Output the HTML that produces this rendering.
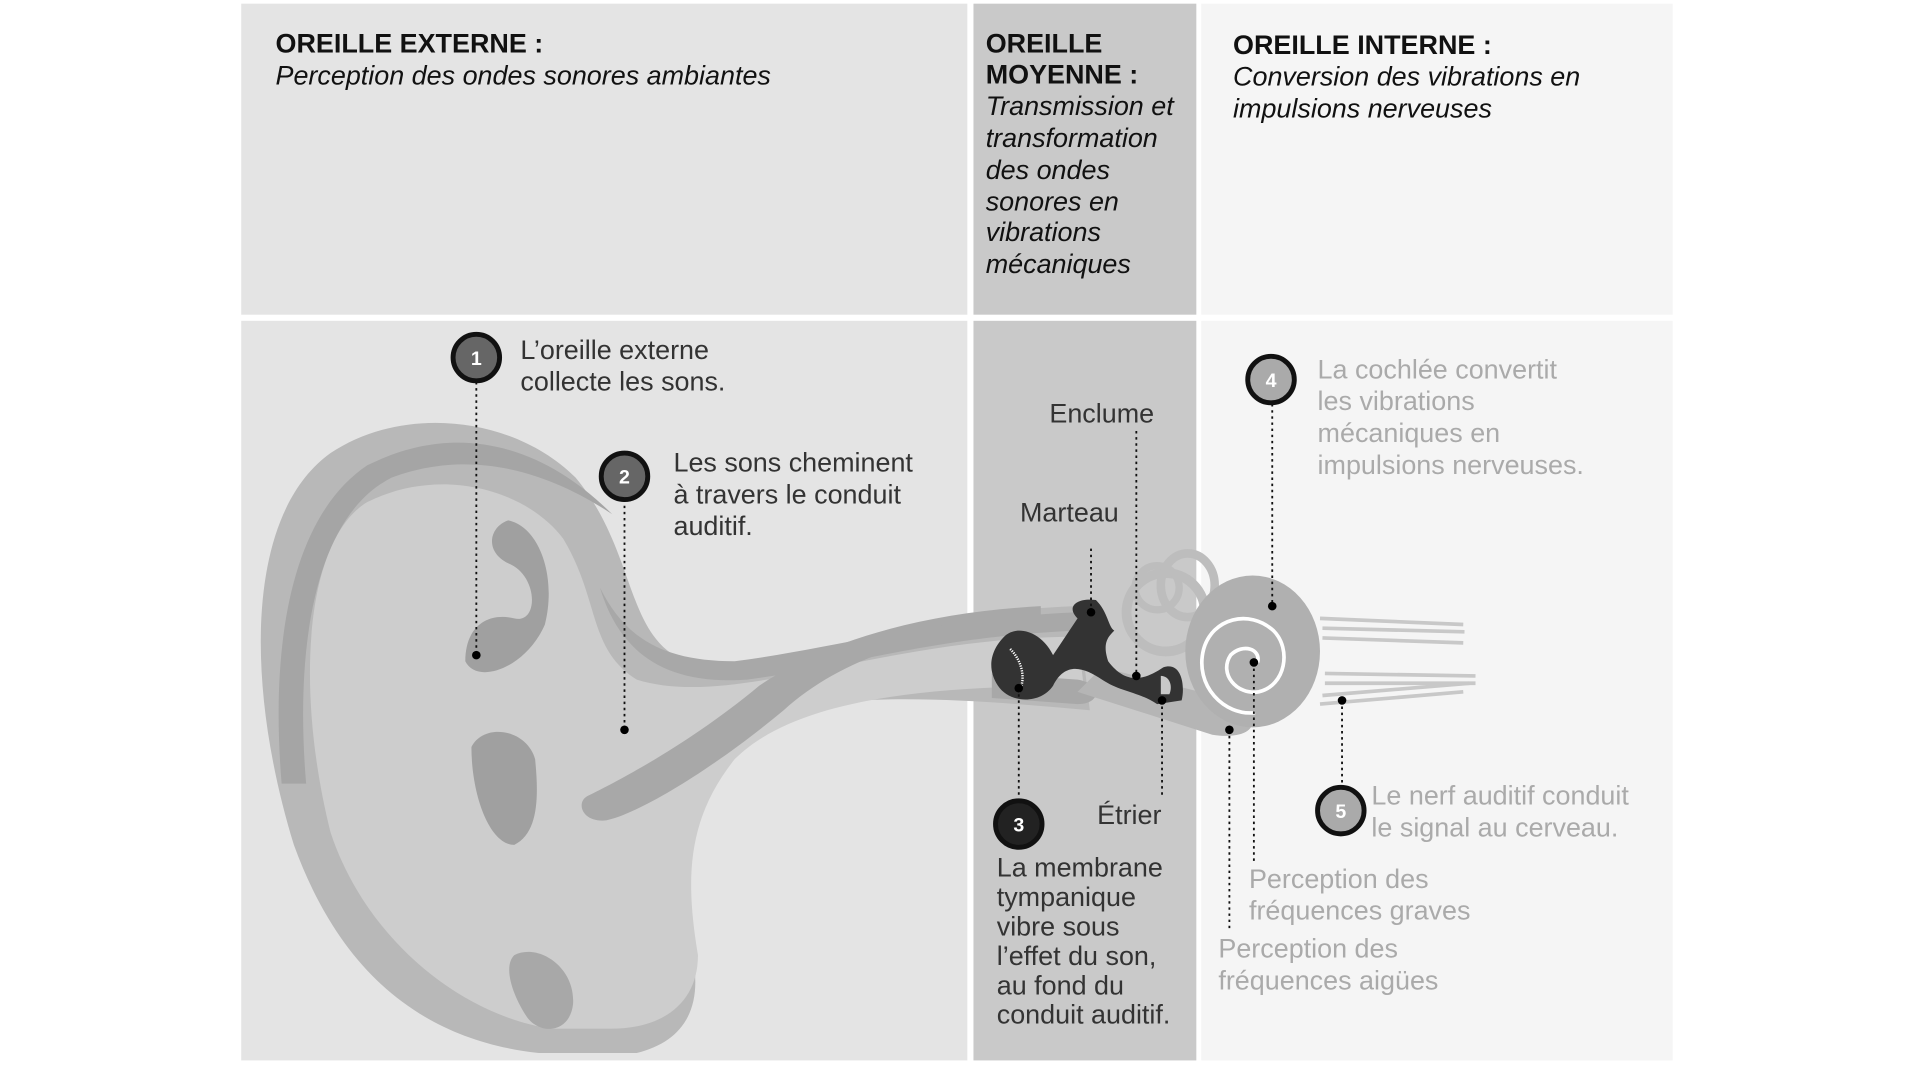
<!DOCTYPE html>
<html><head><meta charset="utf-8"><style>
html,body{margin:0;padding:0;background:#fff;width:1920px;height:1080px;overflow:hidden}
svg{display:block}
text{font-family:"Liberation Sans",sans-serif}
.h{font-weight:bold;font-size:22px;fill:#111}
.i{font-style:italic;font-size:22px;fill:#111}
.t{font-size:22px;fill:#333}
.g{font-size:22px;fill:#aaa}
.dot{stroke:#111;stroke-width:1.5;stroke-dasharray:2 3;fill:none}
</style></head><body>
<svg width="1920" height="1080" viewBox="0 0 1568 882" preserveAspectRatio="none">
<rect x="0" y="0" width="1568" height="882" fill="#fff"/>
<rect x="197" y="3" width="593" height="254" fill="#e4e4e4"/>
<rect x="795" y="3" width="182" height="254" fill="#c9c9c9"/>
<rect x="981" y="3" width="385" height="254" fill="#f5f5f5"/>
<rect x="197" y="262" width="593" height="604" fill="#e4e4e4"/>
<rect x="795" y="262" width="182" height="604" fill="#c9c9c9"/>
<rect x="981" y="262" width="385" height="604" fill="#f5f5f5"/>

<!-- ear -->
<path d="M240 690 C200 560 200 420 270 370 C330 330 420 340 470 390 C520 450 510 520 560 540 C640 560 720 500 880 495 L890 580 C780 570 650 560 600 600 C550 640 540 700 560 760 C580 820 560 850 520 860 L440 860 C350 850 280 800 240 690Z" fill="#b8b8b8"/>
<path d="M270 680 C240 560 250 440 300 410 C360 380 430 400 460 440 C490 490 480 530 520 555 C600 580 720 520 880 520 L885 560 C760 560 650 570 600 620 C560 670 560 720 570 780 C570 820 540 840 500 840 L450 840 C380 830 300 770 270 680Z" fill="#cdcdcd"/>
<path d="M230 640 C220 520 240 420 300 380 C380 340 450 370 500 420 C470 400 400 360 320 390 C260 420 240 520 250 640Z" fill="#a5a5a5"/>
<path d="M380 540 C380 510 400 500 420 505 C440 510 440 470 415 460 C395 450 400 430 415 425 C440 430 455 470 445 510 C430 545 390 560 380 540Z" fill="#a0a0a0"/>
<path d="M385 610 C395 590 430 595 437 620 C440 650 440 680 420 690 C400 690 385 650 385 610Z" fill="#a0a0a0"/>
<path d="M420 780 C440 770 470 790 468 820 C465 845 440 845 430 830 C420 815 410 790 420 780Z" fill="#a8a8a8"/>
<path d="M480 650 C500 640 560 610 620 560 C680 520 760 500 850 495 L850 510 C760 515 690 535 640 580 C580 630 520 665 495 670 C475 672 470 655 480 650Z" fill="#a8a8a8"/>
<path d="M490 480 C510 520 540 540 600 540 C680 530 760 505 880 500 L880 515 C760 520 690 545 610 555 C540 560 505 530 490 480Z" fill="#a8a8a8"/>
<path d="M810 550 L880 555 C900 558 900 575 880 575 L810 570Z" fill="#a8a8a8"/>
<path d="M880 565 L990 600 C1020 605 1040 590 1000 570 L900 545Z" fill="#b5b5b5"/>
<!-- semicircular canals -->
<circle cx="952" cy="500" r="32" fill="none" stroke="#bdbdbd" stroke-width="8"/>
<ellipse cx="970" cy="478" rx="22" ry="26" fill="none" stroke="#bdbdbd" stroke-width="7"/>
<circle cx="945" cy="480" r="18" fill="none" stroke="#bdbdbd" stroke-width="6"/>
<!-- cochlea -->
<ellipse cx="1023" cy="532" rx="55" ry="62" fill="#b0b0b0"/>
<path d="M1027 541 C1030 530 1015 525 1005 535 C995 550 1010 568 1028 565 C1050 560 1055 530 1040 515 C1020 497 990 505 983 530 C975 560 1000 585 1025 582" fill="none" stroke="#fff" stroke-width="3"/>
<!-- nerve -->
<g stroke="#c8c8c8" stroke-width="3" fill="none">
<path d="M1078 505 L1195 510"/><path d="M1080 513 L1196 516"/><path d="M1080 521 L1195 525"/>
<path d="M1082 550 L1205 552"/><path d="M1082 558 L1205 558"/><path d="M1080 568 L1200 558"/><path d="M1078 575 L1195 565"/>
</g>
<!-- ossicles -->
<path d="M820 520 C830 510 850 515 860 535 L880 505 C870 495 880 488 895 490 C905 500 905 512 910 515 C905 520 900 525 905 540 C920 560 935 555 950 545 C965 540 968 560 965 572 L945 575 C930 565 915 565 900 555 C885 545 870 540 860 560 C850 575 825 575 815 560 C805 545 810 530 820 520Z" fill="#333"/>
<path d="M948 552 C955 552 958 560 955 567 L948 567Z" fill="#c9c9c9"/>
<path d="M825 530 C835 540 838 555 832 565" stroke="#fff" stroke-width="2" stroke-dasharray="1 1" fill="none"/>

<!-- dotted leaders -->
<path class="dot" d="M389 312 V535"/><circle cx="389" cy="535" r="3.5"/>
<path class="dot" d="M510 408 V596"/><circle cx="510" cy="596" r="3.5"/>
<path class="dot" d="M832 562 V652"/><circle cx="832" cy="562" r="3.5"/>
<path class="dot" d="M891 448 V500"/><circle cx="891" cy="500" r="3.5"/>
<path class="dot" d="M928 352 V550"/><circle cx="928" cy="552" r="3.5"/>
<path class="dot" d="M949 572 V650"/><circle cx="949" cy="572" r="3.5"/>
<path class="dot" d="M1039 330 V495"/><circle cx="1039" cy="495" r="3.5"/>
<path class="dot" d="M1024 541 V705"/><circle cx="1024" cy="541" r="3.5"/>
<path class="dot" d="M1004 596 V758"/><circle cx="1004" cy="596" r="3.5"/>
<path class="dot" d="M1096 572 V640"/><circle cx="1096" cy="572" r="3.5"/>

<!-- badges -->
<g font-family="Liberation Sans" font-weight="bold" font-size="16" text-anchor="middle">
<circle cx="389" cy="292" r="19" fill="#666" stroke="#111" stroke-width="4"/><text x="389" y="298" fill="#fff">1</text>
<circle cx="510" cy="389" r="19" fill="#666" stroke="#111" stroke-width="4"/><text x="510" y="395" fill="#fff">2</text>
<circle cx="832" cy="673" r="19" fill="#222" stroke="#111" stroke-width="4"/><text x="832" y="679" fill="#fff">3</text>
<circle cx="1038" cy="310" r="19" fill="#aaa" stroke="#111" stroke-width="4"/><text x="1038" y="316" fill="#fff">4</text>
<circle cx="1095" cy="662" r="19" fill="#aaa" stroke="#111" stroke-width="4"/><text x="1095" y="668" fill="#fff">5</text>
</g>

<!-- headers -->
<text class="h" x="225" y="43">OREILLE EXTERNE :</text>
<text class="i" x="225" y="69">Perception des ondes sonores ambiantes</text>
<text class="h" x="805" y="43">OREILLE</text>
<text class="h" x="805" y="68">MOYENNE :</text>
<text class="i" x="805" y="94">Transmission et</text>
<text class="i" x="805" y="120">transformation</text>
<text class="i" x="805" y="146">des ondes</text>
<text class="i" x="805" y="172">sonores en</text>
<text class="i" x="805" y="197">vibrations</text>
<text class="i" x="805" y="223">mécaniques</text>
<text class="h" x="1007" y="44">OREILLE INTERNE :</text>
<text class="i" x="1007" y="70">Conversion des vibrations en</text>
<text class="i" x="1007" y="96">impulsions nerveuses</text>

<text class="t" x="425" y="293">L’oreille externe</text>
<text class="t" x="425" y="319">collecte les sons.</text>
<text class="t" x="550" y="385">Les sons cheminent</text>
<text class="t" x="550" y="411">à travers le conduit</text>
<text class="t" x="550" y="437">auditif.</text>
<text class="t" x="857" y="345">Enclume</text>
<text class="t" x="833" y="426">Marteau</text>
<text class="t" x="896" y="673">Étrier</text>
<text class="t" x="814" y="716">La membrane</text>
<text class="t" x="814" y="740">tympanique</text>
<text class="t" x="814" y="764">vibre sous</text>
<text class="t" x="814" y="788">l’effet du son,</text>
<text class="t" x="814" y="812">au fond du</text>
<text class="t" x="814" y="836">conduit auditif.</text>
<text class="g" x="1076" y="309">La cochlée convertit</text>
<text class="g" x="1076" y="335">les vibrations</text>
<text class="g" x="1076" y="361">mécaniques en</text>
<text class="g" x="1076" y="387">impulsions nerveuses.</text>
<text class="g" x="1120" y="657">Le nerf auditif conduit</text>
<text class="g" x="1120" y="683">le signal au cerveau.</text>
<text class="g" x="1020" y="725">Perception des</text>
<text class="g" x="1020" y="751">fréquences graves</text>
<text class="g" x="995" y="782">Perception des</text>
<text class="g" x="995" y="808">fréquences aigües</text>
</svg>
</body></html>
